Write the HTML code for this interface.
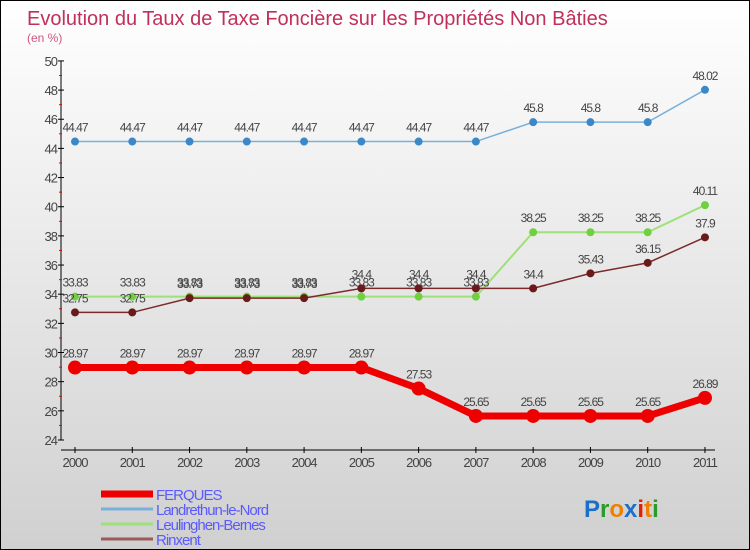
<!DOCTYPE html>
<html><head><meta charset="utf-8"><style>
body{margin:0}
#c{position:relative;width:750px;height:550px;box-sizing:border-box;border:1px solid #000;background:linear-gradient(#fff,#d0d0d0);font-family:"Liberation Sans",sans-serif;overflow:hidden}
</style></head><body>
<div id="c">
<svg id="s" width="748" height="548" style="position:absolute;left:0;top:0"></svg>
</div>
<script>
const years=["2000","2001","2002","2003","2004","2005","2006","2007","2008","2009","2010","2011"];
const ferques=[28.97,28.97,28.97,28.97,28.97,28.97,27.53,25.65,25.65,25.65,25.65,26.89];
const landrethun=[44.47,44.47,44.47,44.47,44.47,44.47,44.47,44.47,45.8,45.8,45.8,48.02];
const leulinghen=[33.83,33.83,33.83,33.83,33.83,33.83,33.83,33.83,38.25,38.25,38.25,40.11];
const rinxent=[32.75,32.75,33.73,33.73,33.73,34.4,34.4,34.4,34.4,35.43,36.15,37.9];
const yTicks=[24,26,28,30,32,34,36,38,40,42,44,46,48,50];
const NS="http://www.w3.org/2000/svg";
const s=document.getElementById('s');
function X(i){return 74+i*57.27;}
function Y(v){return 439-(v-24)*14.58;}
function el(t,a,txt){const e=document.createElementNS(NS,t);for(const k in a)e.setAttribute(k,a[k]);if(txt!==undefined)e.textContent=txt;s.appendChild(e);return e;}
let e;
e=el('text',{x:26,y:24,'font-size':20,fill:'#c0305a'},'Evolution du Taux de Taxe Foncière sur les Propriétés Non Bâties');

e=el('text',{x:26,y:41,'font-size':12,fill:'#d0557a'},'(en %)');

e=el('line',{x1:60,y1:Y(50),x2:60,y2:Y(24),stroke:'#000','stroke-width':1});

e=el('line',{x1:60,y1:449,x2:X(11)+10,y2:449,stroke:'#000'});

yTicks.forEach((v,i)=>{
 e=el('line',{x1:57,y1:Y(v),x2:63,y2:Y(v),stroke:'#000'});
 
 if(i<yTicks.length-1){e=el('line',{x1:58,y1:Y(v+1),x2:61,y2:Y(v+1),stroke:'#e00'});
 }
 e=el('text',{x:56,y:Y(v)+5,'font-size':13,fill:'#444','text-anchor':'end','letter-spacing':'-1'},String(v));
 
});
years.forEach((y,i)=>{
 e=el('line',{x1:X(i),y1:446,x2:X(i),y2:452,stroke:'#000'});
 
 e=el('text',{x:X(i),y:466,'font-size':13,fill:'#444','text-anchor':'middle','letter-spacing':'-1'},y);
 
});
function series(name,data,color,w,r,dot){
 e=el('polyline',{points:data.map((v,i)=>X(i)+','+Y(v)).join(' '),fill:'none',stroke:color,'stroke-width':w});
 
 data.forEach((v,i)=>{
  e=el('circle',{cx:X(i),cy:Y(v),r:r,fill:dot});
  
  e=el('text',{x:X(i),y:Y(v)-10,'font-size':12,fill:'#444','text-anchor':'middle','letter-spacing':'-1'},String(v));
  
 });
}
series('landrethun',landrethun,'#7ab0d8',1.5,4,'#3a88c8');
series('leulinghen',leulinghen,'#9ee07a',2,4,'#70d040');
series('rinxent',rinxent,'#7a2a2a',1.5,4,'#6a1a1a');
series('ferques',ferques,'#ee0000',7,7,'#ee0000');
const leg=[['FERQUES','#ee0000',7],['Landrethun-le-Nord','#7ab0d8',3],['Leulinghen-Bernes','#9ee07a',3],['Rinxent','#9a5a5a',3]];
leg.forEach((l,i)=>{
 const y=493+i*15;
 e=el('line',{x1:100,y1:y,x2:152,y2:y,stroke:l[1],'stroke-width':l[2]});
 
 e=el('text',{x:155,y:y+6,'font-size':15,fill:'#5a5aff','letter-spacing':'-1'},l[0]);
 
});
const logo=[['P','#1a70c8'],['r','#2a9a2a'],['o','#f08000'],['x','#1a70c8'],['i','#e02000'],['t','#f08000'],['i','#2a9a2a']];
e=el('text',{x:583,y:516,'font-size':24,'font-weight':'bold'});

logo.forEach(c=>{const t=document.createElementNS(NS,'tspan');t.setAttribute('fill',c[1]);t.textContent=c[0];e.appendChild(t);});
</script>
</body></html>
